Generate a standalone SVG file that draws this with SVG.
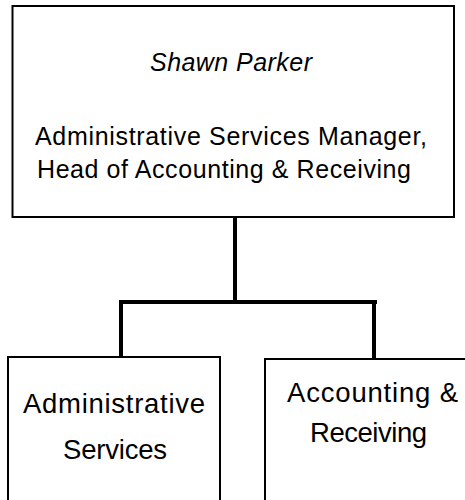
<svg xmlns="http://www.w3.org/2000/svg" width="465" height="500" viewBox="0 0 465 500">
<style>
.box{fill:#fff;stroke:#000;stroke-width:2}
.t{font-family:"Liberation Sans",Arial,sans-serif;font-size:25px;fill:#000;text-anchor:middle}
.b{font-size:27.5px}
.c{fill:none;stroke:#000;stroke-width:4}
</style>
<rect width="465" height="500" fill="#fff"/>
<g id="connectors">
<path class="c" d="M235,217 V302"/>
<path class="c" d="M120,302 H377"/>
<path class="c" d="M121,300 V357"/>
<path class="c" d="M374,300 V359"/>
</g>
<g id="manager">
<rect class="box" x="12.5" y="6" width="441.5" height="211"/>
<text class="t" x="231" y="71" font-style="italic" textLength="162">Shawn Parker</text>
<text class="t" x="231" y="145" textLength="392">Administrative Services Manager,</text>
<text class="t" x="224" y="178" textLength="374">Head of Accounting &amp; Receiving</text>
</g>
<g id="admin">
<rect class="box" x="8" y="357" width="212" height="160"/>
<text class="t b" x="114" y="413" textLength="182">Administrative</text>
<text class="t b" x="115" y="459" textLength="104">Services</text>
</g>
<g id="accounting">
<rect class="box" x="265" y="359" width="210" height="160"/>
<text class="t b" x="372.5" y="402" textLength="171">Accounting &amp;</text>
<text class="t b" x="368.5" y="442" textLength="117">Receiving</text>
</g>
</svg>
